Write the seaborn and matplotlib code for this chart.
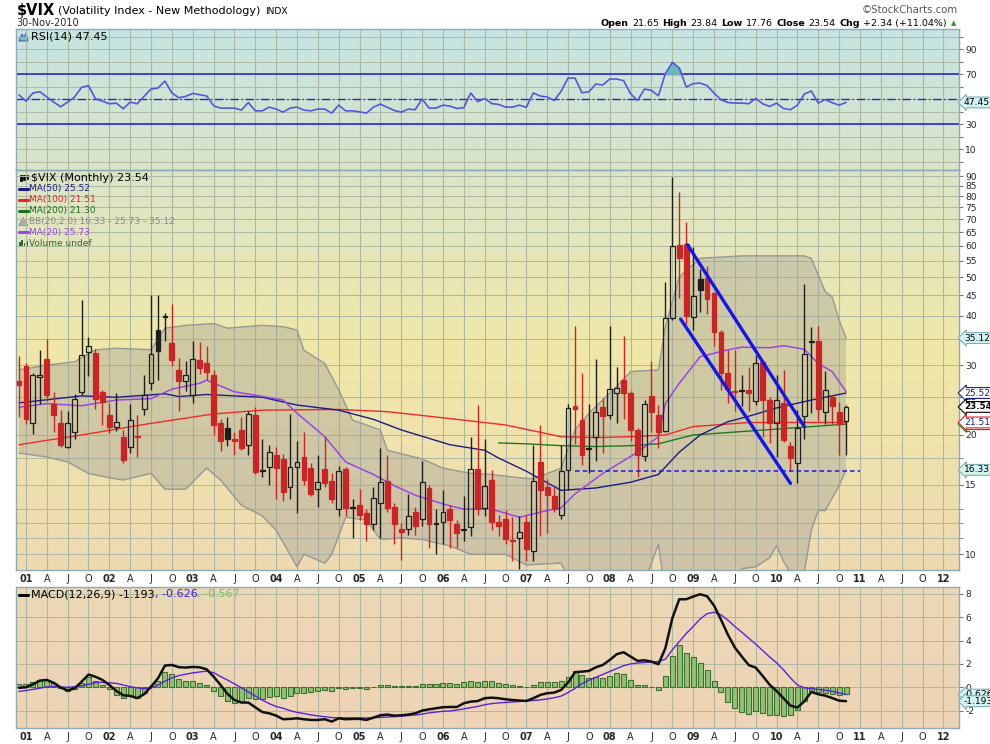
import numpy as np
import pandas as pd
import matplotlib
matplotlib.use("Agg")
import matplotlib.pyplot as plt
import seaborn as sns
from matplotlib.lines import Line2D
from matplotlib.patches import Polygon, Rectangle

sns.set_style("white")
plt.rcParams['font.family'] = ['DejaVu Sans']

# ------------------------------------------------------------------
# data: monthly $VIX candles, Dec 2000 .. Nov 2010
# ------------------------------------------------------------------
months = pd.date_range("2000-12-01", periods=120, freq="MS")
prior_close = 29.7   # Nov 2000 close, only used for the first candle colour

opens = [27.4, 29.9, 21.5, 28.0, 31.1, 24.0, 21.5, 18.7, 20.4, 25.7,
         32.4, 32.2, 25.7, 22.5, 21.0, 19.8, 18.6, 19.9, 23.2, 27.1,
         36.8, 39.6, 34.2, 29.2, 27.4, 25.3, 30.9, 30.4, 28.3, 21.5,
         20.8, 19.5, 20.6, 18.9, 22.5, 16.3, 16.6, 17.8, 17.4, 14.8,
         16.6, 17.6, 16.5, 14.6, 16.4, 15.3, 13.0, 16.4, 13.1, 13.3,
         12.7, 11.9, 13.5, 15.3, 13.2, 11.6, 11.6, 12.8, 12.3, 14.7,
         12.0, 12.1, 13.0, 11.9, 11.5, 11.7, 16.4, 13.1, 15.4, 12.1,
         12.3, 10.85, 11.0, 12.1, 10.2, 17.1, 14.8, 14.0, 12.6, 16.3,
         23.7, 21.8, 18.4, 19.8, 23.5, 22.4, 25.5, 27.6, 25.5, 20.6,
         17.7, 25.1, 22.5, 20.5, 39.4, 60.4, 60.7, 39.6, 49.4, 49.9,
         45.5, 36.4, 28.7, 25.8, 25.8, 25.9, 24.4, 30.5, 24.5, 21.4,
         24.1, 18.8, 17.0, 22.3, 34.4, 34.5, 22.9, 24.9, 22.8, 21.65]
highs = [31.7, 30.3, 28.6, 32.8, 34.9, 25.7, 23.1, 23.0, 25.4, 43.8,
         35.3, 33.0, 26.0, 24.1, 25.5, 20.6, 23.9, 22.5, 28.3, 45.1,
         45.1, 40.6, 42.8, 31.3, 30.8, 34.6, 34.4, 33.6, 29.1, 22.0,
         22.2, 20.4, 22.2, 23.0, 23.5, 19.5, 18.9, 18.6, 17.9, 22.6,
         19.3, 20.3, 17.0, 17.8, 19.8, 16.0, 16.7, 16.6, 13.8, 14.6,
         13.0, 14.8, 18.5, 17.8, 13.5, 12.0, 14.2, 13.2, 17.2, 15.0,
         13.0, 14.5, 13.3, 12.2, 14.0, 19.8, 23.8, 19.5, 16.3, 12.6,
         12.9, 12.4, 12.5, 12.6, 18.9, 21.2, 15.5, 14.8, 18.9, 24.0,
         37.6, 28.7, 24.0, 31.1, 24.8, 37.6, 29.7, 35.6, 25.8, 20.8,
         24.5, 30.8, 23.8, 48.5, 89.5, 82.0, 69.1, 59.6, 52.3, 53.5,
         46.0, 36.9, 32.8, 32.8, 28.4, 29.6, 31.8, 30.8, 25.0, 28.4,
         29.2, 19.2, 23.1, 48.2, 37.4, 37.6, 29.0, 25.2, 24.2, 23.84]
lows = [22.2, 21.3, 20.1, 23.9, 24.4, 20.3, 18.7, 18.5, 19.5, 25.2,
        28.2, 23.2, 21.2, 20.2, 20.5, 17.0, 18.0, 17.6, 22.4, 26.0,
        27.5, 34.5, 29.8, 23.0, 25.8, 24.1, 28.5, 27.5, 20.0, 18.2,
        18.8, 17.8, 18.3, 17.8, 15.9, 15.7, 15.0, 13.8, 13.6, 13.8,
        12.7, 15.0, 14.0, 13.2, 14.8, 13.5, 12.5, 12.5, 11.0, 12.2,
        10.8, 11.5, 11.0, 12.8, 10.6, 9.7, 11.2, 11.2, 11.8, 10.4,
        10.0, 10.6, 10.4, 10.4, 10.8, 11.1, 12.6, 12.5, 11.5, 11.1,
        10.6, 9.6, 9.2, 9.6, 9.6, 11.1, 11.3, 12.8, 12.3, 14.5,
        19.0, 16.8, 16.0, 17.2, 18.0, 22.0, 21.4, 22.0, 19.3, 15.7,
        17.2, 20.4, 18.5, 20.3, 39.0, 44.2, 38.1, 36.9, 40.8, 40.5,
        33.6, 26.0, 24.1, 23.0, 23.6, 23.0, 23.8, 19.8, 19.1, 17.6,
        19.2, 16.2, 15.1, 19.5, 22.7, 21.7, 21.3, 21.3, 17.8, 17.76]
closes = [26.7, 21.9, 28.3, 28.4, 25.2, 22.5, 18.9, 21.5, 24.7, 31.9,
          33.6, 24.7, 24.2, 21.0, 21.6, 17.3, 21.8, 19.8, 25.3, 32.0,
          32.6, 39.9, 31.0, 27.4, 28.4, 31.1, 29.5, 28.9, 21.2, 19.3,
          19.5, 19.3, 18.5, 22.6, 16.1, 16.2, 18.1, 16.5, 14.4, 16.6,
          17.1, 15.4, 14.2, 15.2, 15.1, 13.8, 16.2, 13.1, 13.2, 12.6,
          11.9, 13.9, 15.2, 13.1, 11.9, 11.4, 12.5, 11.8, 15.2, 11.9,
          11.95, 12.8, 12.2, 11.3, 11.6, 16.4, 13.0, 14.9, 12.1, 11.8,
          10.9, 10.8, 11.4, 10.3, 15.3, 14.5, 14.1, 13.0, 16.2, 23.4,
          23.2, 17.8, 18.5, 22.8, 22.3, 26.1, 26.3, 25.5, 20.6, 17.8,
          23.9, 22.8, 20.4, 39.4, 59.9, 55.9, 40.0, 44.8, 46.3, 44.0,
          36.4, 28.7, 26.1, 25.6, 25.9, 25.5, 30.4, 24.5, 21.4, 24.5,
          19.4, 17.5, 20.8, 32.0, 34.6, 23.3, 26.0, 23.6, 21.3, 23.54]

# overlays (month index : value)
ma20_at = [0, 4, 9, 14, 19, 22, 26, 27, 31, 34, 38, 40, 44, 47, 51, 54, 57, 61, 64,
           68, 72, 76, 78, 80, 84, 89, 92, 93, 95, 98, 102, 104, 108, 110, 113, 115, 117, 119]
ma20 = [23.5, 24.0, 23.7, 24.5, 24.7, 26.1, 27.0, 27.5, 25.7, 25.2, 24.5, 22.7, 19.8, 17.1,
        15.9, 14.9, 14.1, 13.4, 13.0, 13.0, 12.4, 12.9, 13.1, 14.2, 16.0, 18.1, 19.8, 24.0,
        27.0, 31.5, 32.8, 33.3, 33.2, 33.6, 32.9, 30.3, 28.9, 25.73]
bb_up_at = [0, 4, 8, 11, 14, 19, 21, 24, 28, 30, 35, 38, 40, 41, 44, 46, 48, 52, 53, 58,
            61, 65, 68, 72, 74, 78, 80, 82, 86, 88, 92, 93, 95, 98, 104, 113, 114, 116,
            117, 118, 119]
bb_up = [29.2, 30.0, 30.6, 32.8, 33.1, 32.8, 37.2, 37.8, 38.2, 37.2, 37.8, 37.5, 36.8, 32.7,
         30.3, 26.0, 21.8, 20.6, 18.3, 17.4, 16.5, 16.0, 15.9, 15.6, 15.5, 16.5, 20.6, 22.7,
         26.5, 28.9, 29.2, 37.5, 50.1, 55.8, 56.6, 56.6, 55.8, 46.0, 44.6, 39.0, 35.12]
bb_lo_at = [0, 2, 4, 7, 10, 13, 15, 19, 21, 24, 27, 29, 32, 35, 37, 40, 41, 44, 45, 47,
            50, 52, 55, 58, 62, 65, 70, 73, 78, 80, 85, 90, 92, 93, 96, 103, 104, 106,
            108, 109, 110, 111, 113, 114, 115, 116, 118, 119]
bb_lo = [18.0, 17.8, 17.6, 17.1, 16.0, 15.6, 15.4, 16.0, 14.6, 14.6, 16.5, 15.4, 13.3, 12.5,
         11.5, 9.3, 10.0, 9.5, 10.0, 12.4, 12.2, 10.9, 11.0, 10.9, 10.5, 10.0, 10.0, 9.4,
         9.5, 8.0, 7.5, 8.5, 10.6, 8.0, 5.0, 5.0, 9.2, 9.3, 9.8, 10.5, 9.6, 9.0, 9.0, 11.5,
         12.9, 12.9, 14.9, 16.33]
ma50_at = [0, 9, 14, 21, 23, 27, 35, 40, 46, 51, 55, 62, 67, 69, 73, 78, 83, 88, 92, 95,
           98, 102, 105, 109, 114, 119]
ma50 = [24.1, 25.1, 24.9, 25.4, 25.0, 25.3, 24.9, 23.8, 23.1, 21.9, 20.6, 18.9, 18.3, 17.5,
        16.2, 14.5, 14.7, 15.2, 15.9, 18.1, 20.0, 21.6, 22.3, 23.4, 24.5, 25.52]
ma100_at = [0, 9, 19, 28, 35, 46, 53, 60, 70, 78, 83, 88, 93, 97, 105, 119]
ma100 = [18.9, 20.0, 21.4, 22.6, 23.1, 23.2, 22.9, 22.2, 21.2, 19.8, 19.7, 19.8, 20.0,
         21.0, 21.5, 21.51]
ma200_at = [69, 73, 78, 83, 88, 92, 97, 104, 119]
ma200 = [19.1, 19.0, 18.8, 18.7, 18.8, 19.0, 20.0, 20.4, 21.30]

# hand-drawn annotations
trend_up_at, trend_up = [96.2, 113.0], [60.3, 21.0]
trend_lo_at, trend_lo = [95.2, 111.0], [39.2, 15.1]
support_at, support_level = [80, 121], 16.2

rsi = [53.5, 48.5, 55.0, 56.0, 51.8, 47.7, 44.0, 47.7, 51.8, 59.5,
       60.9, 50.4, 48.5, 46.4, 46.9, 42.4, 47.7, 46.4, 52.3, 58.2,
       59.0, 64.6, 55.0, 51.2, 52.3, 54.7, 53.6, 52.6, 44.8, 42.9,
       42.9, 42.9, 41.3, 47.4, 40.7, 40.7, 43.7, 42.1, 39.7, 42.9,
       43.7, 41.3, 40.7, 42.1, 42.1, 38.9, 45.3, 40.7, 40.7, 39.9,
       38.9, 43.7, 46.1, 43.5, 41.0, 39.7, 42.1, 41.6, 50.2, 42.9,
       42.9, 45.3, 44.5, 42.6, 43.2, 55.0, 48.0, 50.6, 46.6, 45.8,
       43.7, 43.7, 45.3, 43.5, 55.0, 52.6, 51.8, 49.0, 56.3, 67.0,
       67.0, 55.2, 56.0, 62.2, 61.4, 66.2, 66.2, 64.9, 54.4, 49.0,
       58.2, 57.1, 52.8, 70.5, 79.6, 75.1, 59.8, 62.5, 63.0, 60.9,
       55.0, 49.6, 47.4, 46.9, 46.9, 46.4, 50.6, 46.4, 44.2, 46.9,
       42.6, 41.6, 45.3, 54.2, 56.6, 46.9, 49.8, 47.2, 45.3, 47.45]

macd = [-0.05, 0.0, 0.25, 0.57, 0.63, 0.38, -0.02, -0.28, -0.09, 0.47,
        1.09, 0.9, 0.63, 0.2, -0.31, -0.69, -0.74, -0.93, -0.6, 0.05,
        0.77, 1.86, 1.91, 1.72, 1.69, 1.74, 1.71, 1.54, 0.91, 0.2,
        -0.57, -1.09, -1.31, -1.31, -1.72, -2.12, -2.23, -2.43, -2.74, -2.71,
        -2.66, -2.74, -2.8, -2.8, -2.74, -2.94, -2.66, -2.74, -2.71, -2.71,
        -2.8, -2.6, -2.4, -2.34, -2.43, -2.4, -2.34, -2.23, -2.0, -1.89,
        -1.8, -1.71, -1.69, -1.69, -1.37, -1.23, -1.18, -0.94, -0.89, -0.94,
        -1.03, -1.09, -1.14, -1.17, -0.94, -0.66, -0.51, -0.46, -0.23, 0.4,
        1.29, 1.34, 1.4, 1.71, 1.91, 2.34, 2.83, 3.0, 2.63, 2.26,
        2.31, 2.2, 1.97, 3.34, 5.91, 7.54, 7.54, 7.77, 7.97, 7.8,
        7.0, 5.8, 4.5, 3.4, 2.63, 1.9, 1.68, 0.97, 0.22, -0.31,
        -0.94, -1.57, -1.74, -1.2, -0.4, -0.6, -0.72, -0.92, -1.15, -1.193]
signal = [-0.36, -0.28, -0.18, -0.08, 0.03, 0.05, 0.02, 0.0, 0.05, 0.13,
          0.25, 0.4, 0.42, 0.38, 0.33, 0.2, 0.05, -0.05, -0.12, -0.08,
          0.2, 0.52, 0.8, 1.0, 1.12, 1.23, 1.31, 1.38, 1.25, 0.92,
          0.62, 0.3, -0.05, -0.4, -0.75, -1.1, -1.4, -1.65, -1.8, -2.0,
          -2.15, -2.25, -2.37, -2.45, -2.52, -2.6, -2.62, -2.63, -2.63, -2.63,
          -2.63, -2.61, -2.58, -2.55, -2.52, -2.48, -2.43, -2.38, -2.3, -2.2,
          -2.12, -2.06, -2.03, -1.95, -1.85, -1.75, -1.64, -1.5, -1.4, -1.34,
          -1.3, -1.26, -1.22, -1.18, -1.13, -1.08, -1.0, -0.9, -0.76, -0.45,
          -0.1, 0.3, 0.6, 0.85, 1.1, 1.35, 1.6, 1.85, 2.0, 2.07,
          2.12, 2.17, 2.2, 2.4, 3.2, 3.9, 4.6, 5.2, 5.85, 6.3,
          6.43, 6.2, 5.75, 5.2, 4.72, 4.2, 3.7, 3.15, 2.6, 2.1,
          1.49, 0.8, 0.2, -0.05, -0.12, -0.18, -0.25, -0.35, -0.48, -0.626]

# ------------------------------------------------------------------
# layout (pixel geometry of the StockCharts image)
# ------------------------------------------------------------------
W, H = 990, 744
fig = plt.figure(figsize=(W / 100, H / 100), dpi=100)
fig.patch.set_facecolor("white")

def px(x, y):
    return x / W, 1 - y / H

def rect(top, bottom):
    return [16 / W, 1 - bottom / H, (959 - 16) / W, (bottom - top) / H]

def gradient_bg(r, stops):
    bg = fig.add_axes(r, zorder=0)
    n = 256
    t = np.linspace(0, 1, n)
    pos = [s[0] for s in stops]
    cols = np.array([s[1] for s in stops]) / 255.0
    img = np.stack([np.interp(t, pos, cols[:, k]) for k in range(3)], axis=1)
    bg.imshow(img[:, None, :], aspect="auto", extent=[0, 1, 0, 1], origin="upper")
    bg.set_axis_off()

r_rsi, r_px, r_macd = rect(29, 170), rect(170, 570), rect(587, 728)
gradient_bg(r_rsi, [(0, (198, 228, 226)), (1, (218, 228, 200))])
gradient_bg(r_px, [(0, (220, 228, 200)), (0.45, (240, 232, 168)), (1, (238, 218, 178))])
gradient_bg(r_macd, [(0, (237, 216, 182)), (1, (236, 212, 180))])

ax_rsi = fig.add_axes(r_rsi, zorder=1)
ax_px = fig.add_axes(r_px, zorder=1)
ax_macd = fig.add_axes(r_macd, zorder=1)

x = np.arange(len(months))
xlim = (-0.43, 135.25)
axis_dates = pd.date_range("2000-12-01", periods=136, freq="MS")
tick_pos = [i for i, d in enumerate(axis_dates) if d.month in (1, 4, 7, 10)]
tick_lab = [d.strftime("%y") if d.month == 1 else {4: "A", 7: "J", 10: "O"}[d.month]
            for d in axis_dates[tick_pos]]

grid_c = "#adb8a4"
spine_c = "#8eaab4"
for ax in (ax_rsi, ax_px, ax_macd):
    ax.set_facecolor("none")
    ax.set_xlim(*xlim)
    ax.set_xticks(tick_pos)
    ax.grid(True, axis="x", color=grid_c, lw=0.8)
    ax.set_axisbelow(True)
    for s in ax.spines.values():
        s.set_color(spine_c)
        s.set_linewidth(1.0)
    ax.yaxis.tick_right()
    ax.tick_params(axis="y", length=3, color="#777777", labelsize=6.6, pad=1.5)
    ax.tick_params(axis="x", length=0, labelsize=7, pad=3)

for ax in (ax_px, ax_macd):
    ax.set_xticklabels(tick_lab)
    for lab in ax.get_xticklabels():
        if lab.get_text().isdigit():
            lab.set_fontweight("bold")
ax_rsi.set_xticklabels([])

# ------------------------------------------------------------------
# RSI panel
# ------------------------------------------------------------------
rsi_arr = np.array(rsi)
ax_rsi.set_ylim(-6.7, 106.3)
ax_rsi.set_yticks([0, 10, 20, 30, 40, 50, 60, 70, 80, 90, 100])
ax_rsi.set_yticklabels(["", "10", "", "30", "", "", "", "70", "", "90", ""])
ax_rsi.grid(True, axis="y", color=grid_c, lw=0.7)
ax_rsi.axhline(70, color="#2a2ad8", lw=1.2)
ax_rsi.axhline(30, color="#2a2ad8", lw=1.2)
ax_rsi.axhline(50, color="#2a2ab8", lw=1.0, ls=(0, (6, 2, 1, 2)))
ax_rsi.fill_between(x, rsi_arr, 70, where=rsi_arr > 70, interpolate=True,
                    color="#6bb5b8", zorder=2)
sns.lineplot(x=x, y=rsi_arr, ax=ax_rsi, color="#5656dc", lw=1.2, estimator=None, zorder=3)
ax_rsi.set_xlabel("")
ax_rsi.set_ylabel("")

# ------------------------------------------------------------------
# price panel
# ------------------------------------------------------------------
ax_px.set_yscale("log")
ax_px.set_ylim(9.13, 93.2)
major = [10, 15, 20, 25, 30, 35, 40, 45, 50, 55, 60, 65, 70, 75, 80, 85, 90]
minor = [11, 12, 13, 17.5]
ax_px.set_yticks(major)
# 35 sits under the BB flag in the original, so only its tick is kept
ax_px.set_yticklabels(["" if v == 35 else str(v) for v in major])
ax_px.set_yticks(minor, minor=True)
ax_px.set_yticklabels([], minor=True)
ax_px.tick_params(axis="y", which="minor", length=3, color="#777777")
ax_px.grid(True, axis="y", which="both", color=grid_c, lw=0.7)

# Bollinger band area
band_x = np.concatenate([bb_up_at, bb_lo_at[::-1]])
band_y = np.concatenate([bb_up, bb_lo[::-1]])
ax_px.add_patch(Polygon(np.column_stack([band_x, band_y]), closed=True,
                        fc="#9c9c98", alpha=0.38, ec="none", zorder=1))
ax_px.plot(bb_up_at, bb_up, color="#979797", lw=1.0, zorder=1.5)
ax_px.plot(bb_lo_at, bb_lo, color="#979797", lw=1.0, zorder=1.5)

sns.lineplot(x=ma100_at, y=ma100, ax=ax_px, color="#ee2a2a", lw=1.0, estimator=None, zorder=2)
sns.lineplot(x=ma200_at, y=ma200, ax=ax_px, color="#1f7a1f", lw=1.0, estimator=None, zorder=2)
sns.lineplot(x=ma50_at, y=ma50, ax=ax_px, color="#1c1c84", lw=1.0, estimator=None, zorder=2)
sns.lineplot(x=ma20_at, y=ma20, ax=ax_px, color="#9a45e8", lw=1.1, estimator=None, zorder=2)

# candles
o, h, l, c = map(np.array, (opens, highs, lows, closes))
prev = np.concatenate([[prior_close], c[:-1]])
col = np.where(c < prev, "#cc2424", "#1e1e1e")
filled = c < o
top = np.maximum(o, c)
bot = np.minimum(o, c)
ax_px.vlines(x, top, h, colors=col, lw=1.0, zorder=3)
ax_px.vlines(x, l, bot, colors=col, lw=1.0, zorder=3)
body_h = np.maximum(top - bot, 0.0001 * top)
ax_px.bar(x, body_h, bottom=bot, width=0.7,
          color=[cc if f else "none" for cc, f in zip(col, filled)],
          edgecolor=col, lw=0.9, zorder=3.5)

# annotations
ax_px.plot(trend_up_at, trend_up, color="#1414ee", lw=2.4, solid_capstyle="round", zorder=4)
ax_px.plot(trend_lo_at, trend_lo, color="#1414ee", lw=2.4, solid_capstyle="round", zorder=4)
ax_px.plot(support_at, [support_level, support_level], color="#1a1ae6", lw=1.1,
           ls=(0, (3, 2)), zorder=4)
ax_px.set_xlabel("")
ax_px.set_ylabel("")

# ------------------------------------------------------------------
# MACD panel
# ------------------------------------------------------------------
macd_arr, sig_arr = np.array(macd), np.array(signal)
hist = macd_arr - sig_arr
ax_macd.set_ylim(-3.49, 8.59)
ax_macd.set_yticks([-2, 0, 2, 4, 6, 8])
ax_macd.set_yticklabels(["-2", "0", "2", "4", "6", "8"])
ax_macd.grid(True, axis="y", color=grid_c, lw=0.7)
ax_macd.bar(x, hist, width=0.72, color="#8dc473", edgecolor="#3f6d34", lw=0.8, zorder=2)
sns.lineplot(x=x, y=sig_arr, ax=ax_macd, color="#5a22e0", lw=1.0, estimator=None, zorder=3)
sns.lineplot(x=x, y=macd_arr, ax=ax_macd, color="#111111", lw=1.8, estimator=None, zorder=4)
ax_macd.set_xlabel("")
ax_macd.set_ylabel("")

# ------------------------------------------------------------------
# value flags on the right axis
# ------------------------------------------------------------------
def flag(ax, val, text, fc, ec, tc="black", bold=False, size=6.6):
    ax.annotate(text, xy=(1.0, val), xycoords=("axes fraction", "data"),
                xytext=(3.5, 0), textcoords="offset points", ha="left", va="center",
                fontsize=size, color=tc, fontweight="bold" if bold else "normal",
                bbox=dict(boxstyle="larrow,pad=0.1", fc=fc, ec=ec, lw=0.8),
                annotation_clip=False, zorder=10)

flag(ax_rsi, 47.45, "47.45", "#d4f2f2", "#7fb0b0")
flag(ax_px, 35.12, "35.12", "#d4f2f2", "#7fb0b0")
flag(ax_px, 25.52, "25.52", "white", "#1c1c84", tc="#1c1c84")
flag(ax_px, 23.54, "23.54", "white", "black", bold=True, size=6.3)
flag(ax_px, 21.30, "21.30", "white", "#1f7a1f", tc="#1c1c84")
flag(ax_px, 21.51, "21.51", "white", "#e02020", tc="#1c1c84")
flag(ax_px, 16.33, "16.33", "#d4f2f2", "#7fb0b0")
flag(ax_macd, -0.626, "-0.626", "#d4f2f2", "#7fb0b0")
flag(ax_macd, -1.193, "-1.193", "#d4f2f2", "#7fb0b0")

# ------------------------------------------------------------------
# header and legends
# ------------------------------------------------------------------
renderer = fig.canvas.get_renderer()

def seq_text(x0, y0, parts, size, gap=0.0, right=False):
    texts = [fig.text(0, 0, s, color=colr, fontweight=wt, fontsize=size,
                      ha="left", va="center") for s, colr, wt in parts]
    widths = [t.get_window_extent(renderer=renderer).width for t in texts]
    total = sum(widths) + gap * (len(texts) - 1)
    xc = x0 - total if right else x0
    for t, w in zip(texts, widths):
        t.set_position(px(xc, y0))
        xc += w + gap
    return xc

end = seq_text(17, 11, [("$VIX", "black", "bold")], 10.5)
end = seq_text(end + 3, 11.5, [("(Volatility Index - New Methodology)", "black", "normal")], 8.0)
seq_text(end + 5, 11.5, [("INDX", "black", "normal")], 6.6)
fig.text(*px(16, 23.5), "30-Nov-2010", fontsize=7, ha="left", va="center")
fig.text(*px(958, 10), "\u00a9StockCharts.com", fontsize=7.3, color="#555555",
         ha="right", va="center")
seq_text(947, 23.5, [("Open", "black", "bold"), ("21.65", "black", "normal"),
                     ("High", "black", "bold"), ("23.84", "black", "normal"),
                     ("Low", "black", "bold"), ("17.76", "black", "normal"),
                     ("Close", "black", "bold"), ("23.54", "black", "normal"),
                     ("Chg", "black", "bold"), ("+2.34 (+11.04%)", "black", "normal")], 6.8,
         gap=3.5, right=True)
fig.text(*px(954, 23.5), "\u25b2", fontsize=5, color="#2f8f2f", ha="center", va="center")

def icon_line(y0, colr, lw=2.2):
    fig.add_artist(Line2D([19 / W, 28 / W], [1 - y0 / H] * 2, color=colr, lw=lw))

# RSI legend
fig.add_artist(Polygon([px(19, 41), px(22, 34), px(24, 38), px(26, 33), px(28, 41)],
                       closed=True, fc="#7fc0c8", ec="#3c5ec8", lw=0.8))
seq_text(31, 36.5, [("RSI(14) 47.45", "black", "normal")], 8.0)

# price legend
for k, xc in enumerate([20.5, 23.5, 26.5]):
    fig.add_artist(Rectangle(px(xc - 1, 181 - k), 2 / W, (6 - k) / H, fc="black", ec="black", lw=0.5))
seq_text(31, 178, [("$VIX (Monthly) 23.54", "black", "normal")], 8.0)
legend_rows = [("MA(50) 25.52", "#1c1c84"), ("MA(100) 21.51", "#ee2020"),
               ("MA(200) 21.30", "#1f6e1f"), ("BB(20,2.0) 16.33 - 25.73 - 35.12", "#8a8a8a"),
               ("MA(20) 25.73", "#9a45e8"), ("Volume undef", "#2f6e2f")]
for k, (txt, colr) in enumerate(legend_rows):
    yy = 188.7 + 10.9 * k
    if txt.startswith("BB"):
        fig.add_artist(Polygon([px(19, yy + 4), px(23, yy - 4), px(28, yy + 4)], closed=True,
                               fc="#b0b0b0", ec="#909090", lw=0.6))
    elif txt.startswith("Volume"):
        for j, hh in enumerate([5, 7, 4, 6]):
            fig.add_artist(Rectangle(px(19 + 2.3 * j, yy + 4), 1.6 / W, hh / H,
                                     fc="#2f6e2f", ec="none"))
    else:
        icon_line(yy, colr)
    seq_text(29, yy, [(txt, colr, "normal")], 6.5)

# MACD legend
icon_line(594.5, "black")
seq_text(31, 594.5, [("MACD(12,26,9) -1.193", "black", "normal"),
                     (", -0.626", "#3a22e0", "normal"),
                     (", -0.567", "#7ac060", "normal")], 8.0)

fig.savefig("out.png", dpi=100)
